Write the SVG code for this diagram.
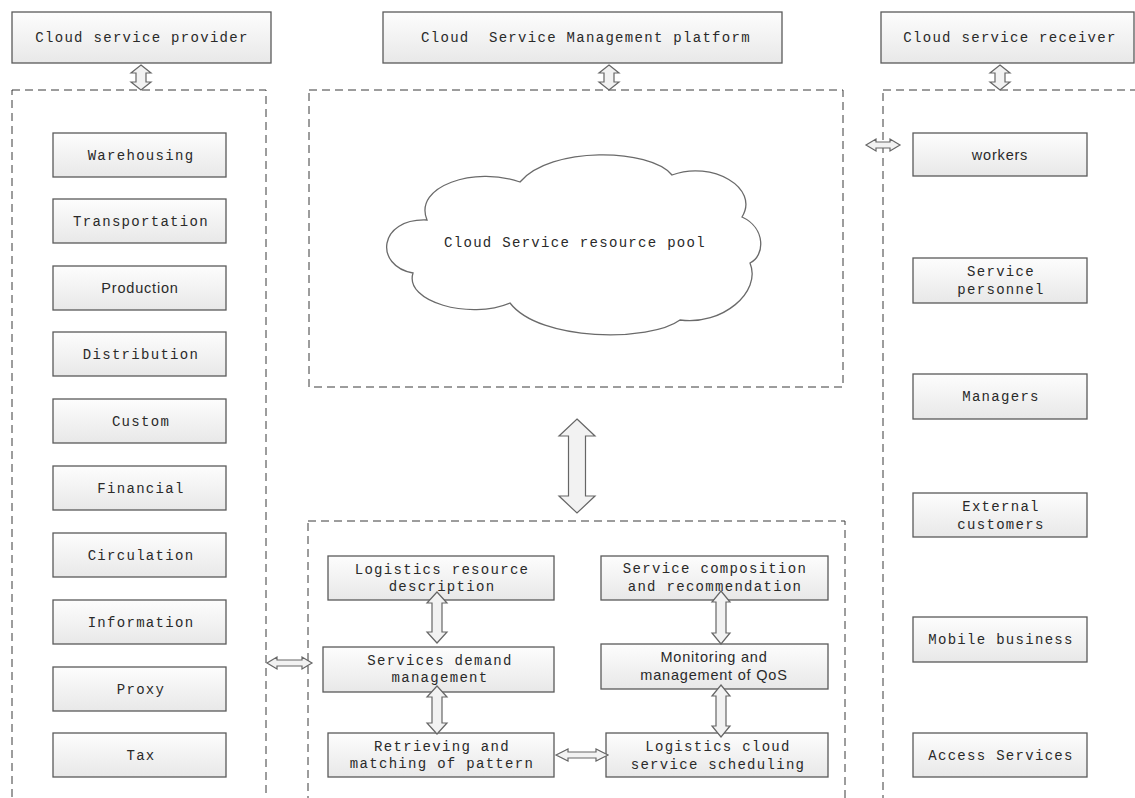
<svg xmlns="http://www.w3.org/2000/svg" width="1135" height="798" viewBox="0 0 1135 798">
  <defs>
    <linearGradient id="boxFill" x1="0" y1="0" x2="0" y2="1">
      <stop offset="0" stop-color="#fdfdfd"/>
      <stop offset="1" stop-color="#e8e8e8"/>
    </linearGradient>
    <style>
      .box { fill: url(#boxFill); stroke: #5a5a5a; stroke-width: 1.3; }
      .zone { fill: none; stroke: #3a3a3a; stroke-width: 1; stroke-dasharray: 8 5; }
      .arrow { fill: #f2f2f2; stroke: #666; stroke-width: 1.2; stroke-linejoin: miter; }
      .cloud { fill: #ffffff; stroke: #6a6a6a; stroke-width: 1.3; }
      .mono { font-family: "Liberation Mono", "DejaVu Sans Mono", monospace; font-size: 14px; letter-spacing: 1.3px; fill: #2a2a2a; text-anchor: middle; }
      .sans { font-family: "Liberation Sans", Arial, sans-serif; font-size: 14.5px; letter-spacing: 0.8px; fill: #2a2a2a; text-anchor: middle; }
    </style>
  </defs>

  <rect width="1135" height="798" fill="#ffffff"/>

  <!-- dashed zones -->
  <g id="zones">
    <rect class="zone" x="12" y="90" width="254" height="730"/>
    <rect class="zone" x="309" y="90" width="534" height="297"/>
    <rect class="zone" x="308" y="521" width="537" height="300"/>
    <rect class="zone" x="883" y="90" width="270" height="730"/>
  </g>

  <!-- header blocks -->
  <g id="provider-header">
    <rect class="box" x="12" y="12" width="259" height="51"/>
    <text class="mono" x="142" y="42">Cloud service provider</text>
  </g>
  <g id="platform-header">
    <rect class="box" x="383" y="12" width="399" height="51"/>
    <text class="mono" x="586" y="42" xml:space="preserve">Cloud  Service Management platform</text>
  </g>
  <g id="receiver-header">
    <rect class="box" x="881" y="12" width="253" height="51"/>
    <text class="mono" x="1010" y="42">Cloud service receiver</text>
  </g>

  <!-- provider resources -->
  <g id="warehousing"><rect class="box" x="53" y="133" width="173" height="44"/><text class="mono" x="141" y="160">Warehousing</text></g>
  <g id="transportation"><rect class="box" x="53" y="199" width="173" height="44"/><text class="mono" x="141" y="226">Transportation</text></g>
  <g id="production"><rect class="box" x="53" y="266" width="173" height="44"/><text class="sans" x="140" y="293">Production</text></g>
  <g id="distribution"><rect class="box" x="53" y="332" width="173" height="44"/><text class="mono" x="141" y="359">Distribution</text></g>
  <g id="custom"><rect class="box" x="53" y="399" width="173" height="44"/><text class="mono" x="141" y="426">Custom</text></g>
  <g id="financial"><rect class="box" x="53" y="466" width="173" height="44"/><text class="mono" x="141" y="493">Financial</text></g>
  <g id="circulation"><rect class="box" x="53" y="533" width="173" height="44"/><text class="mono" x="141" y="560">Circulation</text></g>
  <g id="information"><rect class="box" x="53" y="600" width="173" height="44"/><text class="mono" x="141" y="627">Information</text></g>
  <g id="proxy"><rect class="box" x="53" y="667" width="173" height="44"/><text class="mono" x="141" y="694">Proxy</text></g>
  <g id="tax"><rect class="box" x="53" y="733" width="173" height="44"/><text class="mono" x="141" y="760">Tax</text></g>

  <!-- resource pool -->
  <g id="resource-pool">
    <path class="cloud" d="M 427,220 C 413,186 475,166 520,182 C 550,146 650,148 672,175 C 712,160 760,188 742,217 C 766,228 765,256 750,263 C 762,292 722,326 680,320 C 650,342 540,342 510,303 C 470,320 404,302 413,273 C 374,266 378,218 427,220 Z"/>
    <text class="mono" x="575" y="247">Cloud Service resource pool</text>
  </g>

  <!-- platform functions -->
  <g id="resource-description">
    <rect class="box" x="328" y="556" width="226" height="44"/>
    <text class="mono" x="442" y="574">Logistics resource</text>
    <text class="mono" x="442" y="591">description</text>
  </g>
  <g id="demand-management">
    <rect class="box" x="323" y="647" width="231" height="45"/>
    <text class="mono" x="440" y="665">Services demand</text>
    <text class="mono" x="440" y="682">management</text>
  </g>
  <g id="pattern-matching">
    <rect class="box" x="328" y="733" width="226" height="44"/>
    <text class="mono" x="442" y="751">Retrieving and</text>
    <text class="mono" x="442" y="768">matching of pattern</text>
  </g>
  <g id="composition">
    <rect class="box" x="601" y="556" width="227" height="44"/>
    <text class="mono" x="715" y="573">Service composition</text>
    <text class="mono" x="715" y="591">and recommendation</text>
  </g>
  <g id="qos-monitoring">
    <rect class="box" x="601" y="644" width="227" height="45"/>
    <text class="sans" x="714" y="662">Monitoring and</text>
    <text class="sans" x="714" y="680">management of QoS</text>
  </g>
  <g id="scheduling">
    <rect class="box" x="606" y="733" width="222" height="44"/>
    <text class="mono" x="718" y="751">Logistics cloud</text>
    <text class="mono" x="718" y="769">service scheduling</text>
  </g>

  <!-- receivers -->
  <g id="workers"><rect class="box" x="913" y="133" width="174" height="43"/><text class="sans" x="1000" y="160">workers</text></g>
  <g id="service-personnel">
    <rect class="box" x="913" y="258" width="174" height="45"/>
    <text class="mono" x="1001" y="276">Service</text>
    <text class="mono" x="1001" y="294">personnel</text>
  </g>
  <g id="managers"><rect class="box" x="913" y="374" width="174" height="45"/><text class="mono" x="1001" y="401">Managers</text></g>
  <g id="external-customers">
    <rect class="box" x="913" y="493" width="174" height="44"/>
    <text class="mono" x="1001" y="511">External</text>
    <text class="mono" x="1001" y="529">customers</text>
  </g>
  <g id="mobile-business"><rect class="box" x="913" y="617" width="174" height="45"/><text class="mono" x="1001" y="644">Mobile business</text></g>
  <g id="access-services"><rect class="box" x="913" y="733" width="174" height="44"/><text class="mono" x="1001" y="760">Access Services</text></g>

  <!-- connectors: hollow double arrows -->
  <g id="connectors">
    <!-- header to zone -->
    <path class="arrow" d="M141,65 L151,73 L146,73 L146,82 L151,82 L141,90 L131,82 L136,82 L136,73 L131,73 Z"/>
    <path class="arrow" d="M609,65 L619,73 L614,73 L614,82 L619,82 L609,90 L599,82 L604,82 L604,73 L599,73 Z"/>
    <path class="arrow" d="M1000,65 L1010,73 L1005,73 L1005,82 L1010,82 L1000,90 L990,82 L995,82 L995,73 L990,73 Z"/>
    <!-- resource pool to functions -->
    <path class="arrow" d="M577,419 L595,436 L585.5,436 L585.5,496 L595,496 L577,513 L559,496 L568.5,496 L568.5,436 L559,436 Z"/>
    <!-- provider zone to functions -->
    <path class="arrow" d="M267,663 L277,657 L277,660 L302,660 L302,657 L312,663 L302,669 L302,666 L277,666 L277,669 Z"/>
    <!-- receiver zone link -->
    <path class="arrow" d="M866,145 L876,139 L876,142 L890,142 L890,139 L900,145 L890,151 L890,148 L876,148 L876,151 Z"/>
    <!-- function chain -->
    <path class="arrow" d="M437,592 L447,603 L442,603 L442,632 L447,632 L437,643 L427,632 L432,632 L432,603 L427,603 Z"/>
    <path class="arrow" d="M437,686 L447,697 L442,697 L442,723 L447,723 L437,734 L427,723 L432,723 L432,697 L427,697 Z"/>
    <path class="arrow" d="M721,591 L730,602 L726,602 L726,633 L730,633 L721,644 L712,633 L716,633 L716,602 L712,602 Z"/>
    <path class="arrow" d="M721,685 L730,696 L726,696 L726,726 L730,726 L721,737 L712,726 L716,726 L716,696 L712,696 Z"/>
    <path class="arrow" d="M556,755 L568,749 L568,752 L596,752 L596,749 L608,755 L596,761 L596,758 L568,758 L568,761 Z"/>
  </g>
</svg>
